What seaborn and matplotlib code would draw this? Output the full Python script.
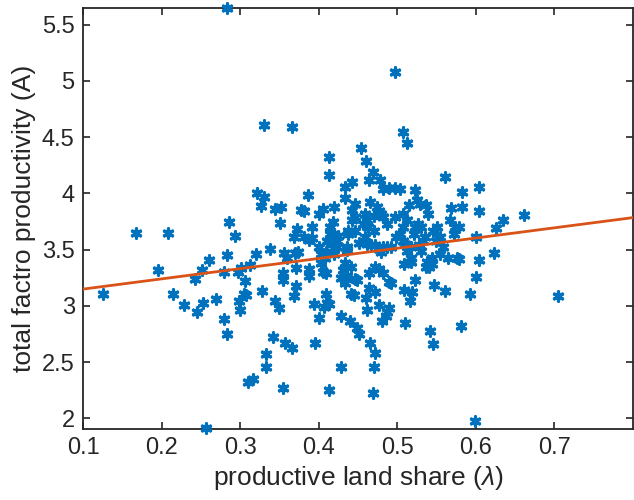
import numpy as np
import pandas as pd
import matplotlib
matplotlib.use("Agg")
import matplotlib.pyplot as plt
import seaborn as sns

# productive land share (lambda)
lam = [
    0.283, 0.497, 0.330, 0.366, 0.508, 0.512, 0.454, 0.460, 0.413, 0.413,
    0.561, 0.469, 0.464, 0.478, 0.443, 0.433, 0.482, 0.490, 0.497, 0.503,
    0.604, 0.523, 0.582, 0.322, 0.331, 0.386, 0.434, 0.326, 0.344, 0.352,
    0.378, 0.381, 0.405, 0.401, 0.419, 0.446, 0.443, 0.466, 0.474, 0.515,
    0.525, 0.529, 0.537, 0.539, 0.569, 0.583, 0.604, 0.661, 0.635, 0.626,
    0.623, 0.604, 0.600, 0.600, 0.593, 0.705, 0.581, 0.599, 0.256, 0.126,
    0.168, 0.208, 0.195, 0.214, 0.229, 0.243, 0.245, 0.251, 0.253, 0.260,
    0.269, 0.279, 0.279, 0.283, 0.283, 0.286, 0.294, 0.297, 0.301, 0.299,
    0.300, 0.305, 0.308, 0.306, 0.312, 0.320, 0.328, 0.338, 0.344, 0.350,
    0.342, 0.351, 0.354, 0.354, 0.356, 0.360, 0.357, 0.366, 0.333, 0.333,
    0.310, 0.317, 0.355, 0.368, 0.371, 0.371, 0.369, 0.373, 0.374, 0.370,
    0.382, 0.388, 0.391, 0.392, 0.388, 0.388, 0.394, 0.396, 0.400, 0.400,
    0.403, 0.403, 0.405, 0.409, 0.407, 0.409, 0.411, 0.413, 0.413, 0.428,
    0.429, 0.440, 0.449, 0.451, 0.466, 0.472, 0.471, 0.469, 0.462, 0.460,
    0.464, 0.472, 0.477, 0.481, 0.486, 0.489, 0.487, 0.490, 0.492, 0.482,
    0.477, 0.472, 0.464, 0.433, 0.431, 0.436, 0.428, 0.433, 0.441, 0.445,
    0.446, 0.449, 0.441, 0.419, 0.509, 0.509, 0.510, 0.516, 0.519, 0.523,
    0.517, 0.518, 0.537, 0.538, 0.541, 0.544, 0.542, 0.546, 0.547, 0.554,
    0.559, 0.561, 0.565, 0.567, 0.574, 0.576, 0.579, 0.579, 0.572, 0.546,
    0.551, 0.554, 0.549, 0.533, 0.528, 0.531, 0.523, 0.527, 0.531, 0.508,
    0.513, 0.503, 0.497, 0.487, 0.482, 0.492, 0.477, 0.480, 0.472, 0.467,
    0.462, 0.471, 0.462, 0.459, 0.456, 0.459, 0.446, 0.437, 0.437, 0.436,
    0.436, 0.420, 0.423, 0.423, 0.415, 0.418, 0.415, 0.411, 0.409, 0.408,
    0.479, 0.482, 0.477, 0.487, 0.471, 0.508, 0.510, 0.518, 0.513, 0.521,
    0.508, 0.544, 0.446, 0.443, 0.425, 0.452, 0.498, 0.535, 0.417, 0.463,
]

# total factor productivity (A)
tfp = [
    5.645, 5.08, 4.61, 4.59, 4.55, 4.45, 4.40, 4.29, 4.32, 4.16,
    4.15, 4.19, 4.12, 4.12, 4.10, 4.06, 4.04, 4.05, 4.05, 4.04,
    4.06, 4.03, 4.01, 4.00, 3.97, 3.99, 3.96, 3.89, 3.86, 3.88,
    3.85, 3.84, 3.86, 3.82, 3.88, 3.91, 3.85, 3.92, 3.88, 3.90,
    3.94, 3.91, 3.90, 3.82, 3.87, 3.88, 3.84, 3.81, 3.76, 3.69,
    3.47, 3.41, 3.26, 3.61, 3.11, 3.09, 2.82, 1.98, 1.912, 3.11,
    3.65, 3.65, 3.32, 3.11, 3.01, 3.24, 2.95, 3.32, 3.03, 3.41,
    3.06, 2.88, 3.30, 3.45, 2.75, 3.75, 3.62, 3.30, 3.34, 3.04,
    2.96, 3.11, 3.10, 3.22, 3.36, 3.46, 3.13, 3.51, 3.04, 2.98,
    2.72, 3.74, 3.29, 3.23, 3.47, 3.43, 2.67, 2.63, 2.57, 2.46,
    2.32, 2.35, 2.27, 3.09, 3.18, 3.34, 3.61, 3.68, 3.48, 3.47,
    3.61, 3.59, 3.60, 3.70, 3.33, 3.27, 3.02, 2.67, 2.89, 3.52,
    3.46, 3.38, 3.30, 3.29, 2.99, 3.11, 3.03, 3.02, 2.25, 2.46,
    2.91, 2.87, 2.80, 2.75, 2.67, 2.58, 2.46, 2.23, 2.96, 3.07,
    3.16, 3.12, 3.01, 2.87, 2.91, 2.98, 2.95, 3.21, 3.20, 3.29,
    3.33, 3.35, 3.29, 3.38, 3.32, 3.27, 3.25, 3.20, 3.11, 3.10,
    3.24, 3.23, 3.35, 3.46, 3.37, 3.14, 2.85, 3.04, 3.12, 3.23,
    3.39, 3.43, 3.35, 3.39, 3.35, 3.37, 2.78, 2.66, 3.19, 3.46,
    3.52, 3.13, 3.43, 3.76, 3.70, 3.43, 3.42, 3.70, 3.64, 3.67,
    3.70, 3.61, 3.58, 3.58, 3.54, 3.49, 3.70, 3.73, 3.70, 3.70,
    3.76, 3.64, 3.79, 3.52, 3.52, 3.52, 3.51, 3.48, 3.54, 3.54,
    3.55, 3.67, 3.76, 3.82, 3.73, 3.61, 3.67, 3.64, 3.67, 3.52,
    3.50, 3.64, 3.58, 3.52, 3.70, 3.75, 3.64, 3.58, 3.48, 3.43,
    3.82, 3.79, 3.84, 3.73, 3.80, 3.58, 3.55, 3.52, 3.49, 3.64,
    3.82, 3.43, 3.79, 3.76, 3.62, 3.56, 3.61, 3.61, 3.55, 3.70,
]

# fitted line endpoints
fit_x = [0.1, 0.8]
fit_y = [3.15, 3.785]

x_ticks = [0.1, 0.2, 0.3, 0.4, 0.5, 0.6, 0.7]
y_ticks = [2, 2.5, 3, 3.5, 4, 4.5, 5, 5.5]
y_tick_labels = ["2", "2.5", "3", "3.5", "4", "4.5", "5", "5.5"]

sns.set_style("ticks")
plt.rcParams["font.family"] = ["Liberation Sans", "DejaVu Sans"]
plt.rcParams["mathtext.fontset"] = "custom"
plt.rcParams["mathtext.it"] = "Liberation Sans:italic"

df = pd.DataFrame({"lam": lam, "tfp": tfp})

fig = plt.figure(figsize=(6.34, 5.0), dpi=100)
ax = fig.add_axes([0.131, 0.143, 0.867, 0.841])

sns.scatterplot(data=df, x="lam", y="tfp", ax=ax, marker=(6, 2, 0), s=46,
                color="#0072BD", linewidth=2.3, clip_on=False, zorder=3,
                legend=False)
sns.lineplot(x=fit_x, y=fit_y, ax=ax, color="#D95319", linewidth=2.0,
             zorder=4)

ax.set_xlim(0.1, 0.8)
ax.set_ylim(1.911, 5.648)
ax.set_xticks(x_ticks)
ax.set_xticklabels([f"{t:g}" for t in x_ticks])
ax.set_yticks(y_ticks)
ax.set_yticklabels(y_tick_labels)
ax.tick_params(direction="in", top=True, right=True, length=5, width=1.2,
               labelsize=17, colors="#262626", pad=6)
for s in ax.spines.values():
    s.set_visible(True)
    s.set_linewidth(1.3)
    s.set_color("#262626")

ax.set_xlabel(r"productive land share ($\lambda$)", fontsize=19, color="#262626")
ax.set_ylabel("total factro productivity (A)", fontsize=19, color="#262626")

fig.savefig("out.png", dpi=100)
